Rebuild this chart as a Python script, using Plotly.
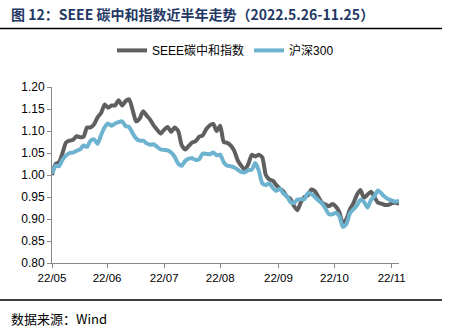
import plotly.graph_objects as go

seee = [1.000, 1.025, 1.029, 1.050, 1.074, 1.078, 1.080, 1.088, 1.086, 1.087,
        1.108, 1.108, 1.115, 1.131, 1.141, 1.160, 1.153, 1.158, 1.158, 1.170,
        1.158, 1.168, 1.172, 1.148, 1.122, 1.128, 1.145, 1.135, 1.126, 1.113,
        1.103, 1.094, 1.103, 1.109, 1.098, 1.108, 1.100, 1.068, 1.058, 1.066,
        1.074, 1.077, 1.087, 1.090, 1.104, 1.113, 1.116, 1.100, 1.112, 1.075,
        1.073, 1.067, 1.055, 1.033, 1.021, 1.012, 1.025, 1.046, 1.042, 1.046,
        1.040, 1.000, 0.990, 0.987, 0.977, 0.969, 0.963, 0.951, 0.946, 0.930,
        0.920, 0.938, 0.950, 0.954, 0.967, 0.963, 0.950, 0.937, 0.933, 0.929,
        0.934, 0.928, 0.915, 0.890, 0.900, 0.922, 0.936, 0.955, 0.966, 0.948,
        0.955, 0.962, 0.950, 0.937, 0.935, 0.932, 0.932, 0.936, 0.937, 0.934]

hs300 = [1.003, 1.021, 1.020, 1.035, 1.044, 1.050, 1.051, 1.055, 1.058, 1.067,
         1.064, 1.078, 1.081, 1.071, 1.091, 1.108, 1.117, 1.112, 1.117, 1.120,
         1.122, 1.111, 1.109, 1.095, 1.083, 1.078, 1.078, 1.072, 1.069, 1.070,
         1.064, 1.058, 1.057, 1.056, 1.051, 1.041, 1.026, 1.021, 1.032, 1.037,
         1.038, 1.034, 1.036, 1.049, 1.048, 1.047, 1.051, 1.045, 1.046, 1.029,
         1.021, 1.020, 1.017, 1.012, 1.007, 1.006, 1.011, 1.012, 1.027, 1.010,
         0.981, 0.977, 0.981, 0.971, 0.964, 0.969, 0.958, 0.952, 0.939, 0.936,
         0.944, 0.945, 0.945, 0.959, 0.957, 0.950, 0.942, 0.936, 0.924, 0.911,
         0.911, 0.914, 0.906, 0.882, 0.889, 0.913, 0.922, 0.931, 0.944, 0.939,
         0.926, 0.943, 0.952, 0.965, 0.958, 0.950, 0.945, 0.942, 0.939, 0.942]

x_idx = list(range(len(seee)))
tick_pos = [0, 15.7, 32, 48, 64.6, 80.6, 96.9]
tick_labels = ["22/05", "22/06", "22/07", "22/08", "22/09", "22/10", "22/11"]
y_ticks = [0.80, 0.85, 0.90, 0.95, 1.00, 1.05, 1.10, 1.15, 1.20]

fig = go.Figure()
fig.add_trace(go.Scatter(x=x_idx, y=seee, mode="lines", name="SEEE碳中和指数",
                         line=dict(color="#5F5F5F", width=4, shape="spline", smoothing=0.6)))
fig.add_trace(go.Scatter(x=x_idx, y=hs300, mode="lines", name="沪深300",
                         line=dict(color="#6DB3CF", width=4, shape="spline", smoothing=0.6)))

fig.update_layout(
    width=450, height=336,
    margin=dict(l=52, r=51, t=87, b=73),
    paper_bgcolor="white", plot_bgcolor="white",
    font=dict(family="Liberation Sans, Arial, sans-serif", size=12, color="#000000"),
    showlegend=True,
    legend=dict(orientation="h", x=0.5, xanchor="center", y=0.85, yanchor="middle",
                yref="container", font=dict(size=12, family="Liberation Sans, Noto Sans CJK SC"),
                itemwidth=30, tracegroupgap=0, bgcolor="rgba(0,0,0,0)"),
    xaxis=dict(range=[0, 99], tickmode="array", tickvals=tick_pos, ticktext=tick_labels,
               showgrid=False, zeroline=False, showline=True, linecolor="#888888", linewidth=1,
               ticks="outside", ticklen=4, tickcolor="#888888",
               tickfont=dict(size=11.5, family="Liberation Sans")),
    yaxis=dict(range=[0.80, 1.20], tickmode="array", tickvals=y_ticks,
               tickformat=".2f", showgrid=False, zeroline=False, showline=True,
               linecolor="#888888", linewidth=1, ticks="outside", ticklen=4,
               tickcolor="#888888", tickfont=dict(size=12, family="Liberation Sans")),
)

pw = 450 - 52 - 51
ph = 336 - 87 - 73
def px_to_paper(px, py):
    return (px - 52) / pw, (336 - 73 - py) / ph

tx, ty = px_to_paper(9, 14)
sx, sy = px_to_paper(9, 318)
fig.add_annotation(text="<b>图 12：SEEE 碳中和指数近半年走势（2022.5.26-11.25）</b>",
                   xref="paper", yref="paper", x=tx, y=ty, xanchor="left", yanchor="middle",
                   showarrow=False, font=dict(size=14, color="#1F3864", family="Noto Sans CJK SC, Liberation Sans"))
fig.add_annotation(text="数据来源：Wind",
                   xref="paper", yref="paper", x=sx, y=sy, xanchor="left", yanchor="middle",
                   showarrow=False, font=dict(size=13, color="#000000", family="Noto Sans CJK SC, Liberation Sans"))

lx0, ly = px_to_paper(0, 28.5)
lx1, _ = px_to_paper(442, 28.5)
fig.add_shape(type="line", xref="paper", yref="paper", x0=lx0, x1=lx1, y0=ly, y1=ly,
              line=dict(color="#000000", width=1.5))
bx0, by = px_to_paper(0, 300)
bx1, _ = px_to_paper(442, 300)
fig.add_shape(type="line", xref="paper", yref="paper", x0=bx0, x1=bx1, y0=by, y1=by,
              line=dict(color="#000000", width=1.5))

fig.write_html("out.html")
